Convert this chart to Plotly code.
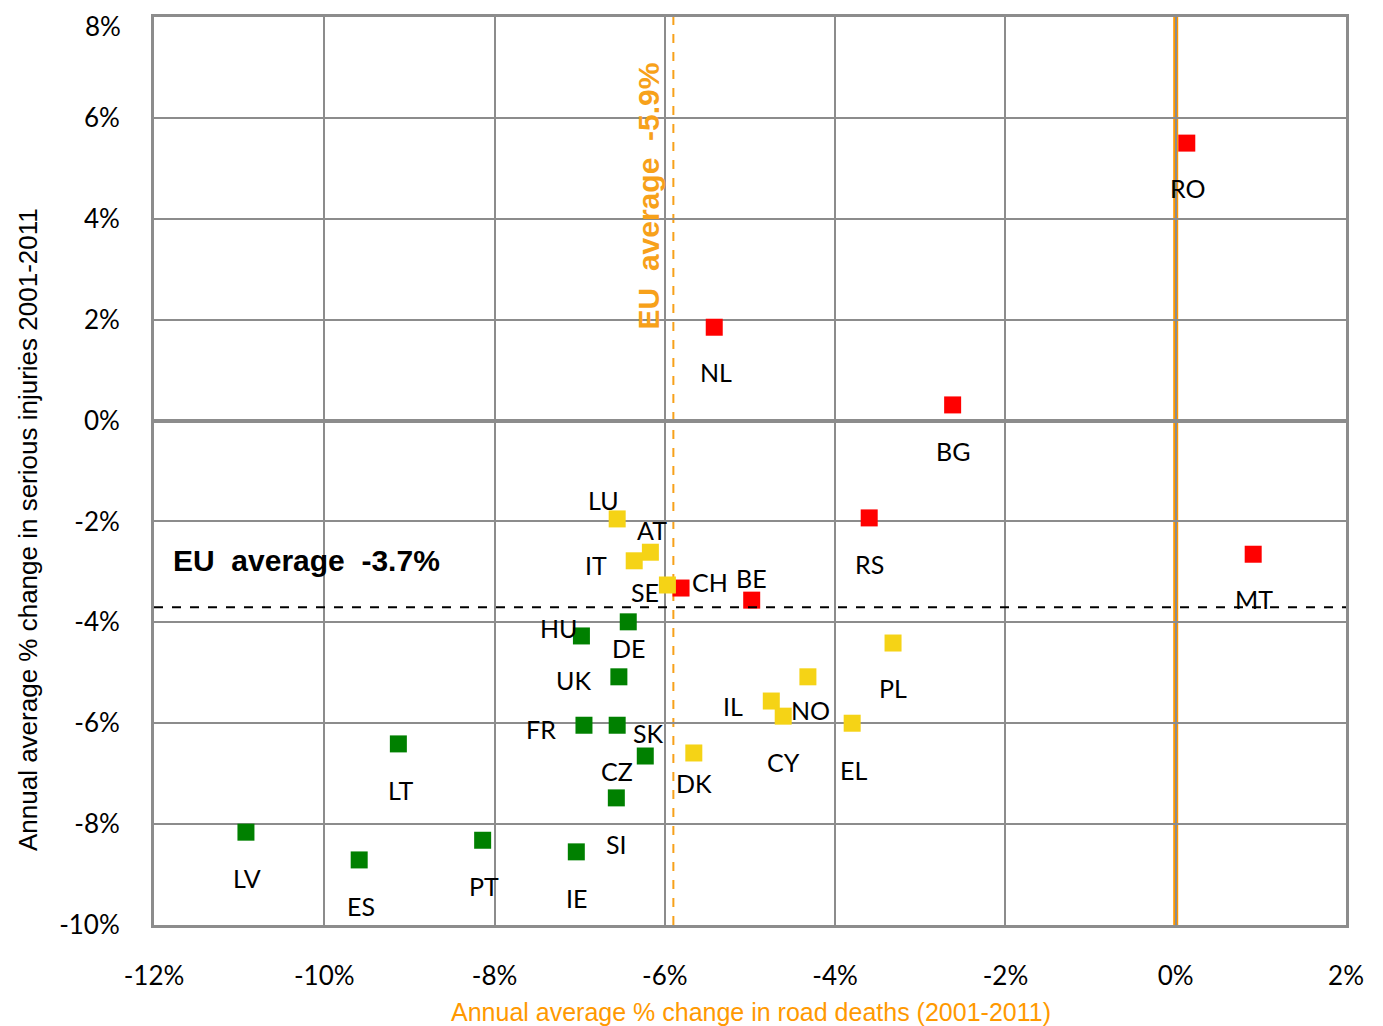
import plotly.graph_objects as go

# ---- data ----
countries = ["RO", "NL", "BG", "RS", "MT", "BE", "CH",
             "SE", "AT", "IT", "LU", "PL", "NO", "IL", "CY", "EL", "DK",
             "DE", "HU", "UK", "FR", "SK", "CZ", "SI", "IE", "PT", "LT", "ES", "LV"]
deaths_change = [0.13, -5.42, -2.62, -3.60, 0.91, -4.98, -5.81,
                 -5.97, -6.17, -6.36, -6.56, -3.32, -4.32, -4.75, -4.61, -3.80, -5.66,
                 -6.43, -6.98, -6.54, -6.95, -6.56, -6.23, -6.57, -7.04, -8.14, -9.13, -9.59, -10.92]
injuries_change = [5.50, 1.85, 0.31, -1.93, -2.65, -3.56, -3.32,
                   -3.26, -2.61, -2.78, -1.95, -4.41, -5.08, -5.56, -5.86, -6.00, -6.59,
                   -3.99, -4.27, -5.08, -6.04, -6.04, -6.65, -7.48, -8.55, -8.32, -6.41, -8.71, -8.16]
group = ["red"] * 7 + ["yellow"] * 10 + ["green"] * 12

eu_avg_deaths = -5.9
eu_avg_injuries = -3.7

x_ticks = [-12, -10, -8, -6, -4, -2, 0, 2]
y_ticks = [-10, -8, -6, -4, -2, 0, 2, 4, 6, 8]

# ---- label placement (pixel offsets: dx right, dy down) ----
label_offsets = {
    "RO": (1, 45), "NL": (2, 45), "BG": (0, 46), "RS": (0, 46), "MT": (1, 45),
    "BE": (0, -22), "CH": (29, -6), "SE": (-22, 7), "AT": (2, -22), "IT": (-38, 4),
    "LU": (-14, -19), "PL": (0, 45), "NO": (3, 33), "IL": (-38, 5), "CY": (0, 46),
    "EL": (1, 47), "DK": (0, 30), "DE": (0, 26), "HU": (-23, -8), "UK": (-45, 3),
    "FR": (-43, 4), "SK": (31, 8), "CZ": (-28, 15), "SI": (0, 46), "IE": (0, 46),
    "PT": (1, 46), "LT": (2, 46), "ES": (2, 46), "LV": (1, 46),
}

colors = {"red": "#FF0000", "yellow": "#F5D316", "green": "#008000"}
ORANGE = "#FF9900"
ORANGE_LIGHT = "#F7A11A"
GRID = "#8C8C8C"
LABEL_FONT = "Lato, Open Sans, sans-serif"
PLOT_W = 1192

fig = go.Figure()

for g in ["red", "yellow", "green"]:
    xs = [x for x, gg in zip(deaths_change, group) if gg == g]
    ys = [y for y, gg in zip(injuries_change, group) if gg == g]
    fig.add_trace(go.Scatter(
        x=xs, y=ys, mode="markers",
        marker=dict(symbol="square", size=17, color=colors[g], line=dict(width=0)),
        showlegend=False, hoverinfo="skip"))

annotations = []
for c, x, y in zip(countries, deaths_change, injuries_change):
    dx, dy = label_offsets[c]
    annotations.append(dict(
        x=x, y=y, text=c, showarrow=False, xshift=dx, yshift=-dy,
        font=dict(family=LABEL_FONT, size=25, color="black")))

# reference lines
shapes = [
    dict(type="line", xref="x", yref="y", x0=eu_avg_deaths, x1=eu_avg_deaths, y0=-10, y1=8,
         line=dict(color=ORANGE_LIGHT, width=2, dash="dash"), layer="below"),
    dict(type="line", xref="x", yref="y", x0=0, x1=0, y0=-10, y1=8,
         line=dict(color=ORANGE, width=5), layer="below"),
    dict(type="line", xref="x", yref="y", x0=-12, x1=2, y0=eu_avg_injuries, y1=eu_avg_injuries,
         line=dict(color="black", width=2, dash="dash"), layer="above"),
]

nb = "\u00a0"
annotations.append(dict(
    x=-11.8, y=-2.77, xanchor="left", yanchor="middle", showarrow=False,
    text=f"<b>EU{nb}{nb}average{nb}{nb}-3.7%</b>",
    font=dict(family="Liberation Sans, Arial, sans-serif", size=30, color="black")))
annotations.append(dict(
    x=eu_avg_deaths, y=4.45, xshift=-25, showarrow=False, textangle=-90,
    xanchor="center", yanchor="middle",
    text=f"<b>EU{nb}{nb}average{nb}{nb}-5.9%</b>",
    font=dict(family="Liberation Sans, Arial, sans-serif", size=30, color=ORANGE_LIGHT)))

# top y tick label drawn as annotation, kept fully inside the page top edge
top_tick = y_ticks[-1]
annotations.append(dict(
    xref="paper", yref="y", x=-32 / PLOT_W, y=top_tick, yshift=8, borderpad=0,
    xanchor="right", yanchor="top", showarrow=False, text=f"{top_tick}%",
    font=dict(family=LABEL_FONT, size=26, color="black")))

# axis titles
annotations.append(dict(
    xref="paper", yref="paper", x=0.5008, y=-0.0958, showarrow=False,
    xanchor="center", yanchor="middle",
    text="Annual average % change in road deaths (2001-2011)",
    font=dict(family="Liberation Sans Narrow, Liberation Sans, sans-serif", size=25, color=ORANGE)))
annotations.append(dict(
    xref="paper", yref="paper", x=-0.1057, y=0.435, showarrow=False, textangle=-90,
    xanchor="center", yanchor="middle",
    text="Annual average % change in serious injuries 2001-2011",
    font=dict(family="Liberation Sans Narrow, Liberation Sans, sans-serif", size=26, color="black")))

y_ticktext = [f"{v}%" if v != top_tick else "" for v in y_ticks]

# figure is placed 8px in from the page edge by the default body margin
fig.update_layout(
    width=1375, height=1018,
    margin=dict(l=146, r=37, t=9, b=101, autoexpand=False),
    paper_bgcolor="white", plot_bgcolor="white",
    shapes=shapes, annotations=annotations,
    xaxis=dict(range=[-12, 2], tickvals=x_ticks, ticktext=[f"{v}%" for v in x_ticks],
               showgrid=True, gridcolor=GRID, gridwidth=2, zeroline=False,
               showline=True, linecolor=GRID, linewidth=3, mirror=True,
               ticks="", ticklabelstandoff=26, automargin=False, ticklabeloverflow="allow",
               tickfont=dict(family=LABEL_FONT, size=26, color="black")),
    yaxis=dict(range=[-10, 8], tickvals=y_ticks, ticktext=y_ticktext,
               showgrid=True, gridcolor=GRID, gridwidth=2,
               zeroline=True, zerolinecolor=GRID, zerolinewidth=4,
               showline=True, linecolor=GRID, linewidth=3, mirror=True,
               ticks="", ticklabelstandoff=26, automargin=False, ticklabeloverflow="allow",
               tickfont=dict(family=LABEL_FONT, size=26, color="black")),
)

fig.write_html("out.html")
